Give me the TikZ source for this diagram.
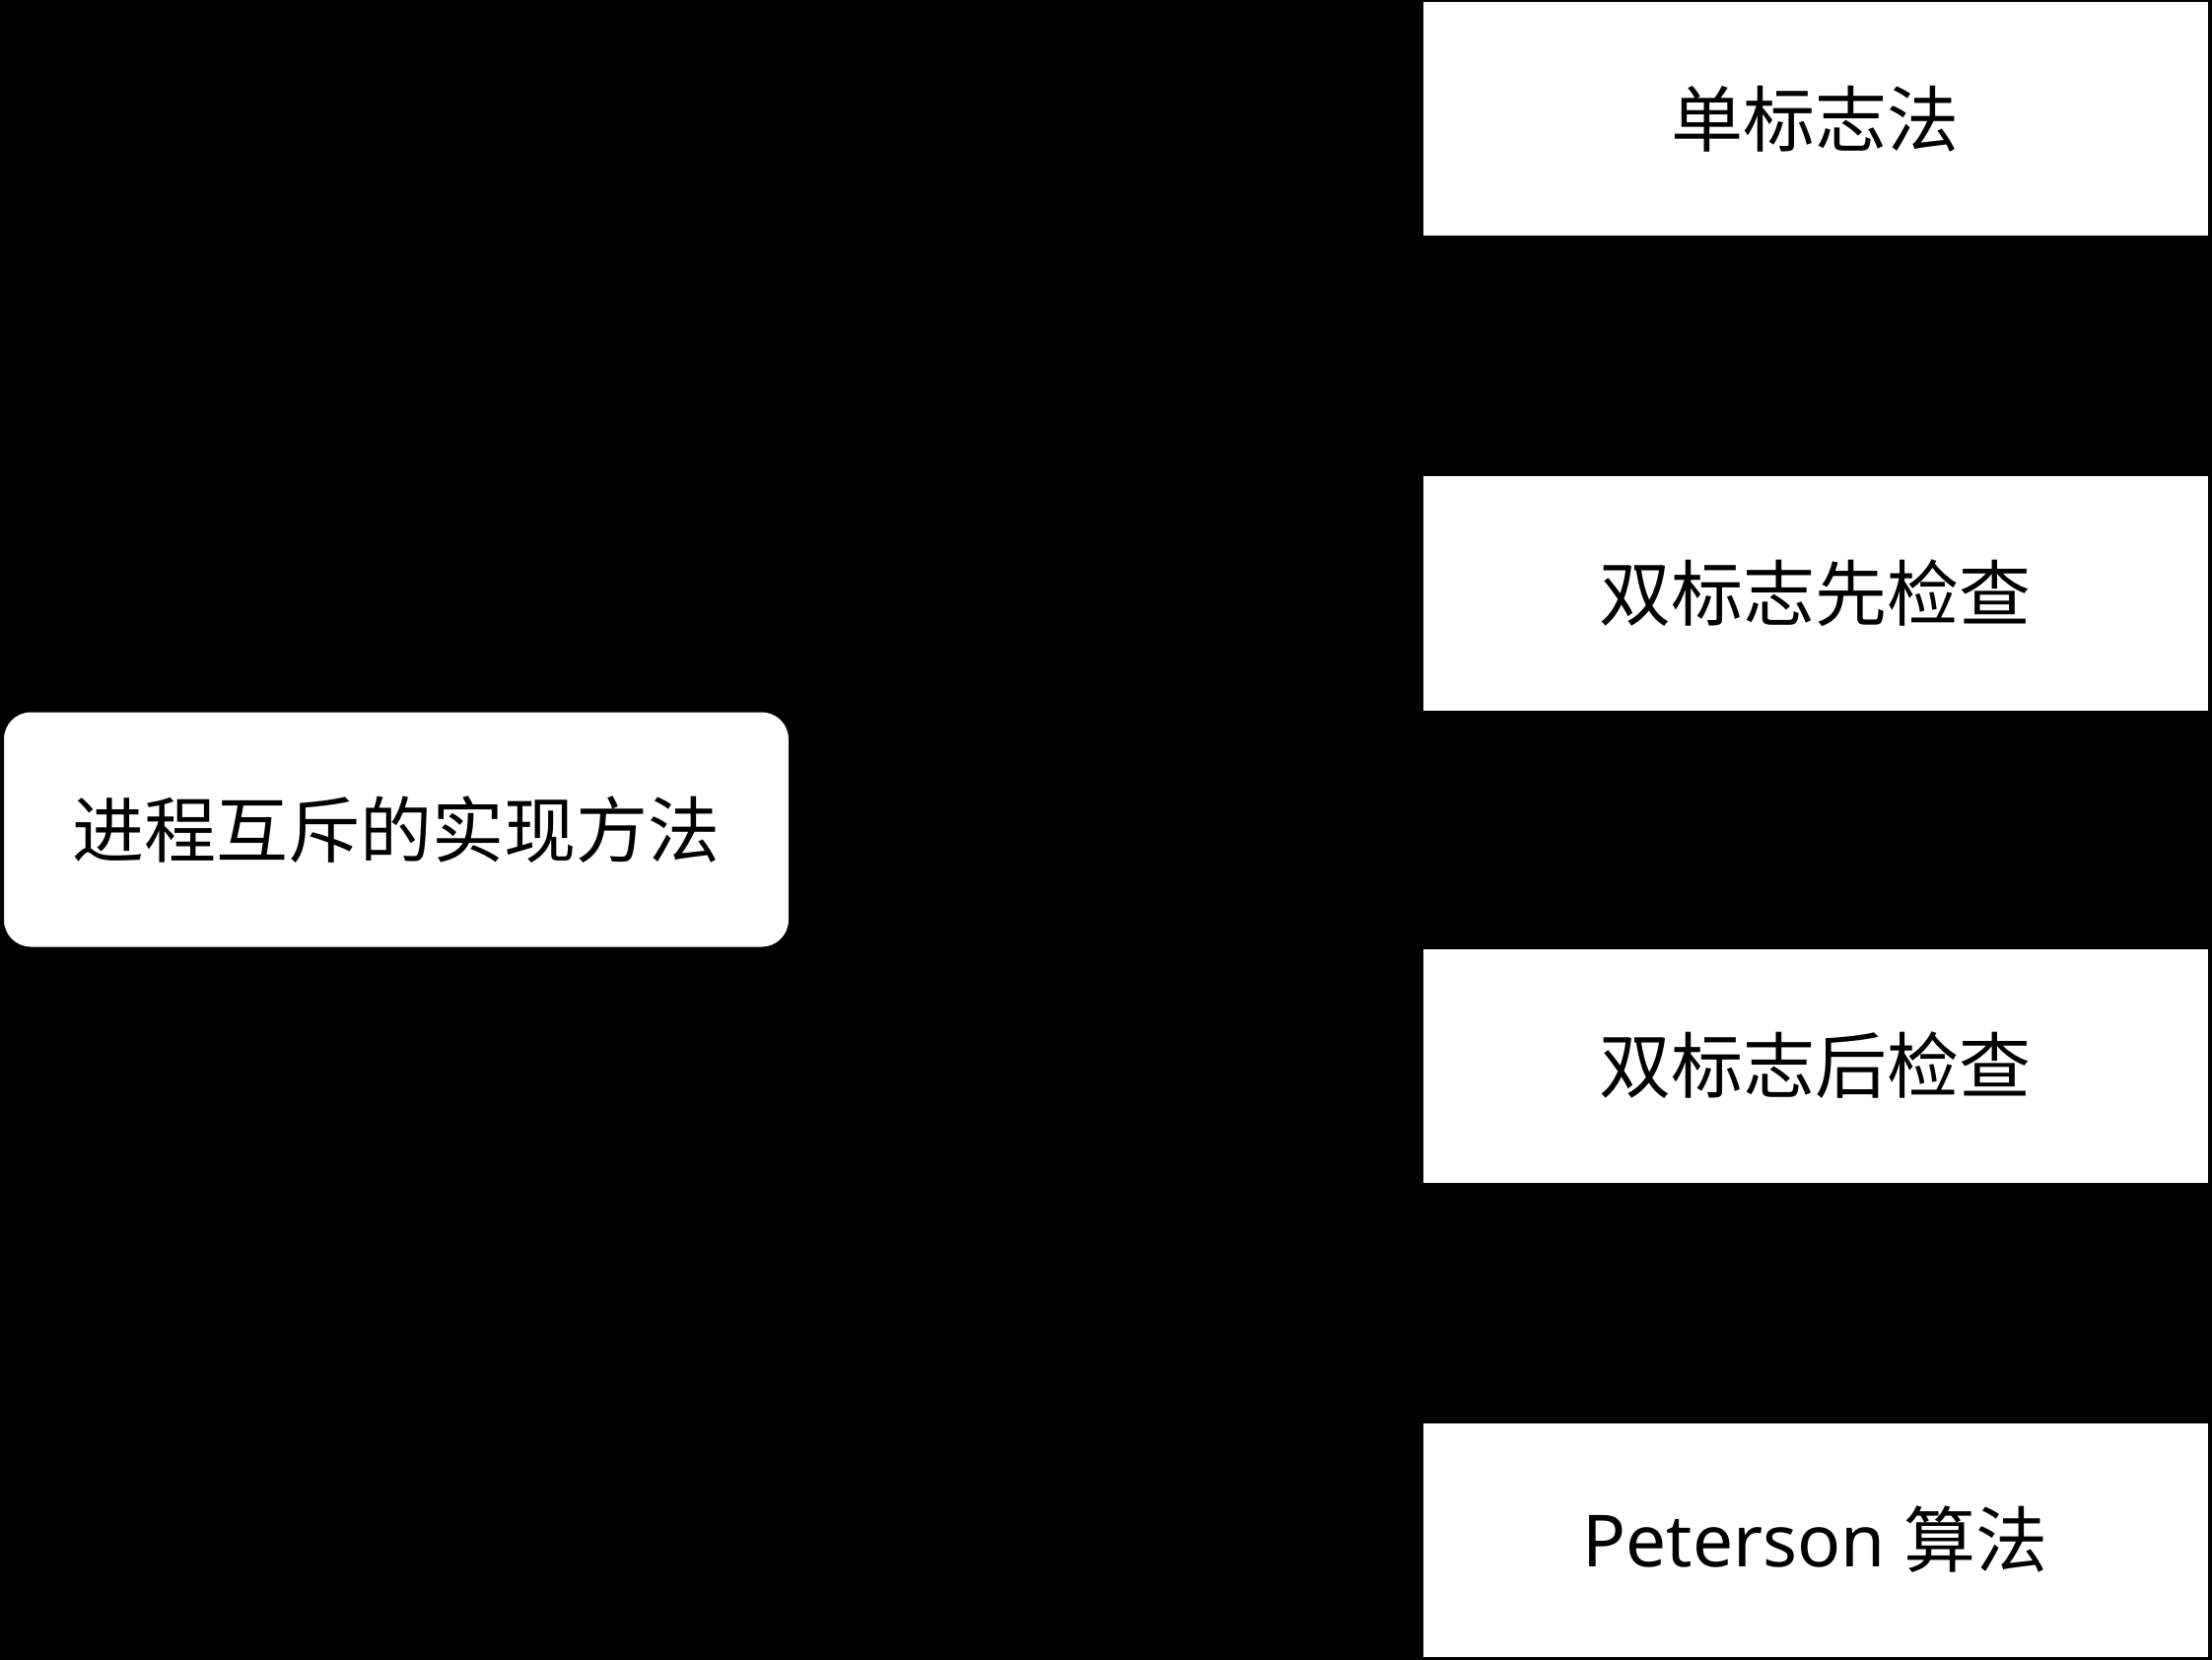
\documentclass[tikz,border=0pt]{standalone}
\usepackage{fontspec}
\setmainfont{Noto Sans}
\newfontfamily\cjk{Noto Sans CJK SC}
\begin{document}
\begin{tikzpicture}[x=0.5pt,y=-0.5pt,
  box/.style={draw=black,line width=1pt,fill=white,text=black,inner sep=0pt,
    minimum width=399pt,minimum height=119.5pt,font=\fontsize{36.5pt}{44pt}\selectfont},
  rootbox/.style={box,rounded corners=14pt,minimum width=399pt,minimum height=120pt}]
\fill[black] (0,0) rectangle (2244,1684);
\useasboundingbox (0,0) rectangle (2244,1684);
\node[rootbox] (root) at (402,841.5) {\cjk 进程互斥的实现方法};
\node[box] (m1) at (1841.5,121) {\cjk 单标志法};
\node[box] (m2) at (1841.5,602) {\cjk 双标志先检查};
\node[box] (m3) at (1841.5,1081) {\cjk 双标志后检查};
\node[box] (m4) at (1841.5,1562) {Peterson {\cjk 算法}};
\end{tikzpicture}
\end{document}
